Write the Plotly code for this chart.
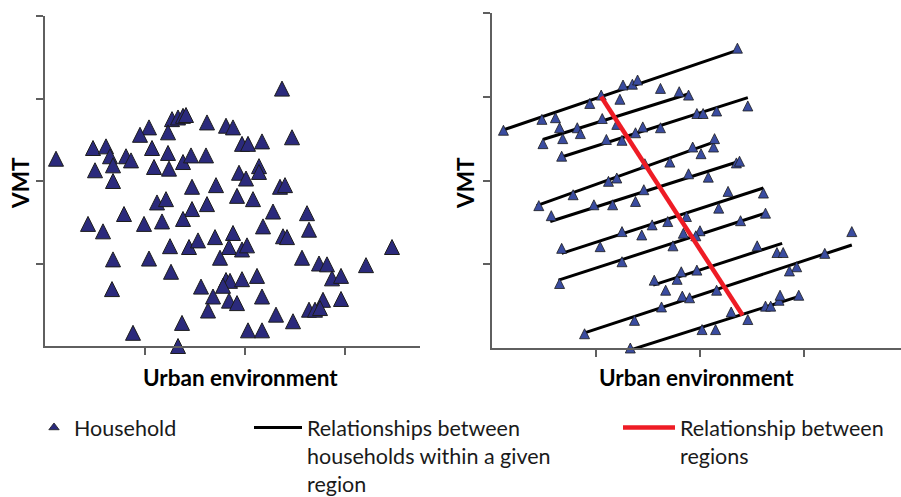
import plotly.graph_objects as go

# ---- data -----------------------------------------------------------------
# Households without any regional grouping (left panel)
HH_X = [2.37, 1.27, 1.33, 1.38, 1.41, 1.62, 1.81, 1.88, 1.04, 0.95, 1.23, 2.47, 0.48, 0.61, 1.07,
        1.97, 2.03, 2.17, 0.65, 0.81, 0.86, 1.23, 1.38, 1.46, 1.61, 0.11, 0.50, 0.68, 1.09, 1.24,
        1.94, 2.01, 2.14, 2.14, 0.68, 1.47, 1.71, 2.35, 2.40, 1.12, 1.21, 1.92, 2.08, 1.47, 1.62,
        1.38, 0.79, 2.28, 2.62, 0.43, 0.58, 0.99, 1.17, 2.18, 2.64, 2.38, 2.42, 1.88, 1.70, 1.25,
        1.44, 1.53, 1.84, 1.97, 2.02, 1.75, 0.68, 1.04, 3.47, 2.57, 2.74, 2.82, 3.21, 1.26, 1.81,
        1.85, 1.97, 2.12, 2.87, 2.96, 0.67, 1.56, 1.78, 1.68, 2.17, 1.84, 1.92, 2.78, 2.96, 1.63,
        2.64, 2.70, 2.75, 2.31, 2.48, 1.37, 0.88, 2.03, 2.17, 1.33]
HH_Y = [3.12, 2.75, 2.77, 2.79, 2.80, 2.71, 2.67, 2.65, 2.65, 2.56, 2.59, 2.53, 2.40, 2.42, 2.40,
        2.45, 2.45, 2.48, 2.30, 2.30, 2.25, 2.34, 2.23, 2.31, 2.31, 2.27, 2.13, 2.19, 2.17, 2.15,
        2.10, 2.03, 2.18, 2.11, 2.00, 1.93, 1.95, 1.93, 1.95, 1.74, 1.78, 1.82, 1.78, 1.66, 1.72,
        1.54, 1.60, 1.63, 1.61, 1.48, 1.39, 1.48, 1.51, 1.45, 1.41, 1.33, 1.32, 1.37, 1.32, 1.21,
        1.20, 1.28, 1.20, 1.17, 1.22, 1.07, 1.05, 1.06, 1.20, 1.07, 1.00, 0.99, 0.98, 0.90, 0.80,
        0.79, 0.81, 0.85, 0.82, 0.85, 0.69, 0.72, 0.73, 0.60, 0.60, 0.55, 0.52, 0.56, 0.57, 0.43,
        0.44, 0.44, 0.46, 0.38, 0.30, 0.28, 0.16, 0.19, 0.19, 0.00]

# Households grouped by region (right panel)
RG_X = [0.11, 0.48, 0.61, 0.65, 0.82, 0.85, 0.68, 0.49, 0.94, 1.05, 1.23, 1.26, 1.35, 1.40, 1.62,
        1.80, 1.89, 1.06, 1.20, 1.10, 1.25, 1.38, 1.45, 1.62, 0.67, 1.47, 1.71, 1.12, 1.20, 1.46,
        0.78, 1.89, 0.45, 0.57, 0.98, 1.16, 1.38, 0.67, 1.04, 1.25, 1.44, 1.54, 1.69, 1.84, 1.74,
        1.25, 0.65, 1.56, 1.67, 1.78, 1.82, 1.83, 1.63, 1.37, 0.89, 1.33, 2.36, 1.97, 2.03, 2.16,
        2.46, 1.93, 2.01, 2.13, 2.14, 2.08, 2.35, 2.38, 2.27, 2.61, 2.18, 1.87, 2.39, 2.63, 2.00,
        1.96, 2.55, 2.74, 2.80, 1.97, 2.93, 2.86, 3.20, 3.46, 1.90, 2.16, 2.30, 2.46, 2.63, 2.68,
        2.76, 2.77, 2.95, 2.02, 2.15]
RG_Y = [2.60, 2.73, 2.75, 2.63, 2.63, 2.56, 2.50, 2.44, 2.92, 3.02, 2.97, 3.14, 3.15, 3.20, 3.10,
        3.06, 3.02, 2.74, 2.67, 2.49, 2.48, 2.57, 2.64, 2.63, 2.29, 2.20, 2.22, 1.99, 2.03, 1.89,
        1.83, 2.08, 1.70, 1.58, 1.71, 1.71, 1.75, 1.19, 1.21, 1.39, 1.35, 1.47, 1.51, 1.37, 1.22,
        1.03, 0.77, 0.81, 0.69, 0.82, 0.91, 0.62, 0.49, 0.33, 0.17, 0.00, 3.58, 2.80, 2.80, 2.83,
        2.89, 2.40, 2.32, 2.40, 2.50, 2.04, 2.21, 2.23, 1.87, 1.85, 1.67, 1.57, 1.52, 1.61, 1.40,
        1.34, 1.22, 1.14, 1.14, 0.93, 0.97, 0.92, 1.13, 1.39, 0.60, 0.69, 0.43, 0.34, 0.50, 0.50,
        0.57, 0.63, 0.63, 0.22, 0.22]

# Within-region fitted lines (start / end of each segment)
WITHIN_X0 = [0.10, 0.49, 0.67, 0.43, 0.56, 0.67, 0.64, 1.55, 0.89, 1.34]
WITHIN_X1 = [2.35, 1.88, 2.46, 2.16, 2.38, 2.61, 2.63, 2.79, 3.46, 2.96]
WITHIN_Y0 = [2.60, 2.49, 2.28, 1.70, 1.51, 1.13, 0.81, 0.75, 0.18, -0.02]
WITHIN_Y1 = [3.55, 3.03, 2.99, 2.47, 2.23, 1.91, 1.61, 1.25, 1.23, 0.62]

# Between-region fitted line
BETWEEN_X = [1.05, 2.41]
BETWEEN_Y = [3.00, 0.39]

X_TICKS = [1, 2, 3]
Y_TICKS = [1, 2, 3, 4]
X_TITLE = "Urban environment"
Y_TITLE = "VMT"
LEGEND_NAMES = [
    "Household",
    "Relationships between<br>households within a given<br>region",
    "Relationship between<br>regions",
]

# ---- styling ----------------------------------------------------------------
W, H = 901, 497
FONT = "Lato, 'Open Sans', Arial, sans-serif"
AXIS_GREY = "#5f5f5f"
NAVY = "#2b2a7c"
BLUE = "#3a4ca0"
EDGE = "#1c1c1c"
RED = "#ee1c25"


def fx(p):
    return p / W


def fy(p):
    return 1 - p / H


line_x, line_y = [], []
for x0, x1, y0, y1 in zip(WITHIN_X0, WITHIN_X1, WITHIN_Y0, WITHIN_Y1):
    line_x += [x0, x1, None]
    line_y += [y0, y1, None]

fig = go.Figure()

# left panel households
fig.add_trace(go.Scatter(
    x=HH_X, y=HH_Y, xaxis="x", yaxis="y", mode="markers",
    marker=dict(symbol="arrow-down", angle=180, standoff=7.5, size=15,
                color=NAVY, line=dict(color=EDGE, width=1)),
    showlegend=False, cliponaxis=False, hoverinfo="skip",
))

# right panel: within-region lines, households, between-region line
fig.add_trace(go.Scatter(
    x=line_x, y=line_y, xaxis="x2", yaxis="y2", mode="lines",
    line=dict(color="black", width=3), name=LEGEND_NAMES[1],
    legend="legend2", cliponaxis=False, hoverinfo="skip",
))
fig.add_trace(go.Scatter(
    x=RG_X, y=RG_Y, xaxis="x2", yaxis="y2", mode="markers",
    marker=dict(symbol="arrow-down", angle=180, standoff=5, size=10,
                color=BLUE, line=dict(color=EDGE, width=0.8)),
    showlegend=False, cliponaxis=False, hoverinfo="skip",
))
fig.add_trace(go.Scatter(
    x=BETWEEN_X, y=BETWEEN_Y, xaxis="x2", yaxis="y2", mode="lines",
    line=dict(color=RED, width=4.5), name=LEGEND_NAMES[2],
    legend="legend3", cliponaxis=False, hoverinfo="skip",
))

# legend key for households
fig.add_trace(go.Scatter(
    x=[None], y=[None], xaxis="x", yaxis="y", mode="markers",
    marker=dict(symbol="triangle-up", size=9, color=NAVY, line=dict(color=EDGE, width=0.8)),
    name=LEGEND_NAMES[0], legend="legend",
))

common_axis = dict(showgrid=False, zeroline=False, showticklabels=False,
                   ticklen=7, tickwidth=1.5, tickcolor=AXIS_GREY, fixedrange=True)
x_main = dict(common_axis, showline=True, linecolor=AXIS_GREY, linewidth=1.5,
              ticks="outside", tickvals=X_TICKS)
y_main = dict(common_axis, showline=True, linecolor=AXIS_GREY, linewidth=1.5,
              ticks="outside", tickvals=Y_TICKS)
x_in = dict(common_axis, showline=False, ticks="inside", tickvals=X_TICKS)
y_in = dict(common_axis, showline=False, ticks="inside", tickvals=Y_TICKS)

left_xd = [fx(45), fx(420)]
left_yd = [fy(346), fy(16)]
right_xd = [fx(492), 1.0]
right_yd = [fy(348), fy(13)]

legend_common = dict(xanchor="left", yanchor="top", bgcolor="rgba(0,0,0,0)",
                     borderwidth=0, valign="top", orientation="v",
                     font=dict(family=FONT, size=21.5, color="#1a1a1a"))

fig.update_layout(
    width=W, height=H, margin=dict(l=0, r=0, t=0, b=0, autoexpand=False),
    paper_bgcolor="white", plot_bgcolor="white",
    font=dict(family=FONT, color="black"),
    xaxis=dict(x_main, domain=left_xd, range=[0, 3.75], anchor="y"),
    yaxis=dict(y_main, domain=left_yd, range=[0, 4], anchor="x"),
    xaxis2=dict(x_main, domain=right_xd, range=[0, 3.933], anchor="y2"),
    yaxis2=dict(y_main, domain=right_yd, range=[0, 4], anchor="x2"),
    xaxis3=dict(x_in, domain=left_xd, range=[0, 3.75], anchor="y", overlaying="x"),
    yaxis3=dict(y_in, domain=left_yd, range=[0, 4], anchor="x", overlaying="y"),
    xaxis4=dict(x_in, domain=right_xd, range=[0, 3.933], anchor="y2", overlaying="x2"),
    yaxis4=dict(y_in, domain=right_yd, range=[0, 4], anchor="x2", overlaying="y2"),
    legend=dict(legend_common, x=fx(34), y=fy(407), itemwidth=30),
    legend2=dict(legend_common, x=fx(249), y=fy(407), itemwidth=48),
    legend3=dict(legend_common, x=fx(618), y=fy(407), itemwidth=52),
    showlegend=True,
)

title_font = dict(family=FONT, size=22.5, color="black", weight="bold")
for cx in (241, 696.5):
    fig.add_annotation(text=X_TITLE, x=fx(cx), y=fy(377), xref="paper", yref="paper",
                       xanchor="center", yanchor="middle", showarrow=False, font=title_font)
for cx in (20, 465):
    fig.add_annotation(text=Y_TITLE, x=fx(cx), y=fy(183), xref="paper", yref="paper",
                       xanchor="center", yanchor="middle", textangle=-90, showarrow=False,
                       font=title_font)

fig.write_html("out.html")
